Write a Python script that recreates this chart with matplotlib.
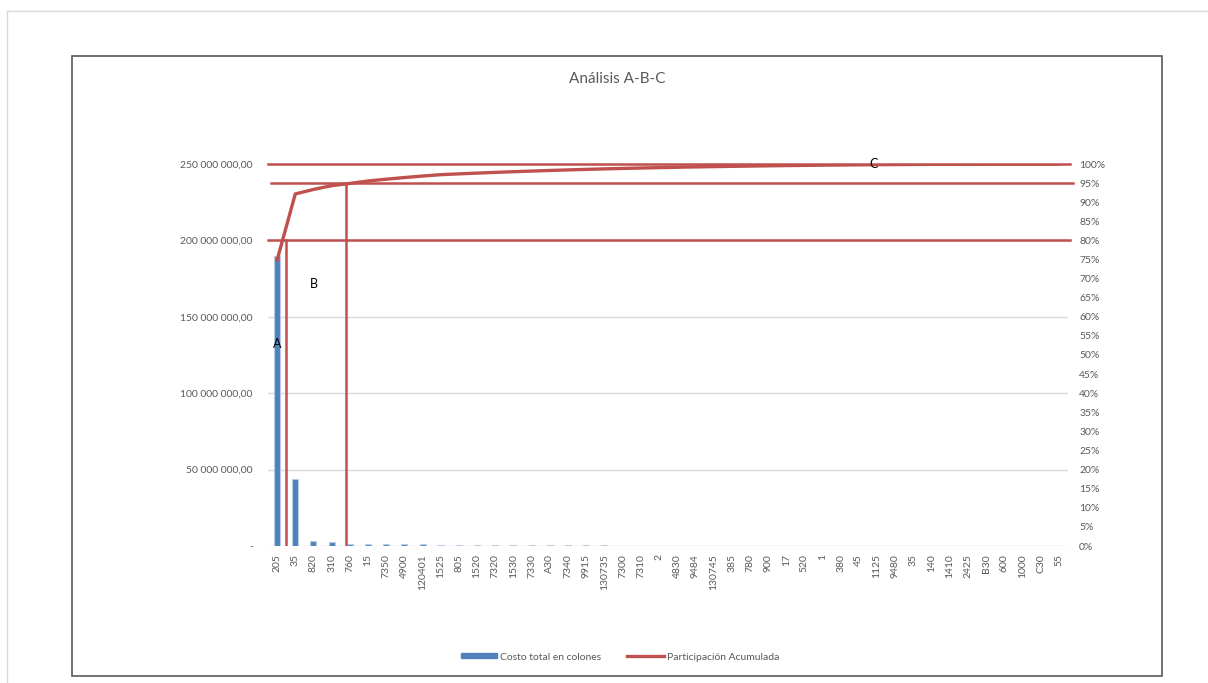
import matplotlib
matplotlib.use("Agg")
import matplotlib.pyplot as plt
from matplotlib.patches import Rectangle
from matplotlib.lines import Line2D
from matplotlib.ticker import FuncFormatter, MultipleLocator

plt.rcParams['font.family'] = ['Lato', 'DejaVu Sans']

# codes (x axis) and cost per code, in colones
codigos = ['205', '35', '820', '310', '760', '15', '7350', '4900', '120401', '1525',
           '805', '1520', '7320', '1530', '7330', 'A30', '7340', '9915', '130735', '7300',
           '7310', '2', '4830', '9484', '130745', '385', '780', '900', '17', '520',
           '1', '380', '45', '1125', '9480', '35', '140', '1410', '2425', 'B30',
           '600', '1000', 'C30', '55']
costo = [190.0e6, 44.0e6, 3.0e6, 2.5e6, 1.5e6, 1.6e6, 1.2e6, 1.1e6, 1.0e6, 0.9e6,
         0.55e6, 0.50e6, 0.48e6, 0.45e6, 0.42e6, 0.40e6, 0.38e6, 0.35e6, 0.33e6, 0.30e6,
         0.28e6, 0.26e6, 0.24e6, 0.22e6, 0.20e6, 0.19e6, 0.18e6, 0.17e6, 0.15e6, 0.14e6,
         0.13e6, 0.12e6, 0.11e6, 0.10e6, 0.09e6, 0.08e6, 0.07e6, 0.06e6, 0.05e6, 0.04e6,
         0.03e6, 0.02e6, 0.01e6, 0.005e6]

# cumulative share
total = sum(costo)
acumulada = []
s = 0
for c in costo:
    s += c
    acumulada.append(s / total)

# ABC cut-offs
cortes = [0.80, 0.95, 1.00]
etiquetas_abc = [('A', 0.0, 0.529), ('B', 2.0, 0.686), ('C', 32.8, 1.0)]

AZUL = '#4F81BD'
ROJO = '#C0504D'
GRIS = '#595959'

fig = plt.figure(figsize=(12.08, 6.83), dpi=100)

# spreadsheet frame and chart border
fig.add_artist(Line2D([7/1208, 7/1208], [0, 1 - 11/683], color='#D9D9D9', lw=1))
fig.add_artist(Line2D([7/1208, 1], [1 - 11/683, 1 - 11/683], color='#D9D9D9', lw=1))
fig.add_artist(Rectangle((72/1208, 1 - 676/683), (1162 - 72)/1208, (676 - 56)/683,
                         fill=False, edgecolor='#595959', lw=1.2))

ax = fig.add_axes([268/1208, 1 - 546/683, 800/1208, 382/683])
x = list(range(len(codigos)))
ax.bar(x, costo, width=0.33, color=AZUL, edgecolor='#B9CDE5', lw=0.8, zorder=2)
ax.set_xlim(-0.5, len(codigos) - 0.5)
ax.set_ylim(0, 250e6)
ax.yaxis.set_major_locator(MultipleLocator(50e6))
ax.yaxis.set_major_formatter(FuncFormatter(
    lambda v, p: '-' if v == 0 else f'{v:,.2f}'.replace(',', ' ').replace('.', ',')))
ax.grid(axis='y', color='#D9D9D9', lw=1, zorder=0)
ax.set_xticks(x)
ax.set_xticklabels(codigos, rotation=90, fontsize=7.5, color=GRIS)
ax.tick_params(axis='both', length=0, labelsize=7.5, labelcolor=GRIS)
ax.tick_params(axis='y', pad=11)
ax.tick_params(axis='x', pad=6)
for sp in ax.spines.values():
    sp.set_visible(False)

ax2 = ax.twinx()
ax2.plot(x, acumulada, color=ROJO, lw=2.4, zorder=3)
ax2.set_ylim(0, 1)
ax2.yaxis.set_major_locator(MultipleLocator(0.05))
ax2.yaxis.set_major_formatter(FuncFormatter(lambda v, p: f'{v*100:.0f}%'))
ax2.tick_params(axis='y', length=0, labelsize=7.5, labelcolor=GRIS, pad=8)
for sp in ax2.spines.values():
    sp.set_visible(False)

# ABC reference lines
for c, x0, x1 in zip(cortes, [-0.5, -0.35, -0.5], [43.6, 43.8, 43.6]):
    ax2.plot([x0, x1], [c, c], color=ROJO, lw=1.8, clip_on=False, zorder=2)
ax2.plot([0.5, 0.5], [0, cortes[0]], color=ROJO, lw=1.8, zorder=2)
ax2.plot([3.8, 3.8], [0, cortes[1]], color=ROJO, lw=1.8, zorder=2)
for t, tx, ty in etiquetas_abc:
    ax2.text(tx, ty, t, fontsize=9, color='black', ha='center', va='center', zorder=4)

fig.text(617/1208, 1 - 79/683, 'Análisis A-B-C', fontsize=11, color=GRIS,
         ha='center', va='center')

handles = [Rectangle((0, 0), 1, 1, color=AZUL), Line2D([], [], color=ROJO, lw=2.4)]
fig.legend(handles, ['Costo total en colones', 'Participación Acumulada'],
           loc='center', bbox_to_anchor=(620/1208, 1 - 657/683), ncol=2, frameon=False,
           fontsize=7.5, labelcolor=GRIS, handlelength=3.5, handleheight=0.4,
           columnspacing=2.5, handletextpad=0.3)

fig.savefig('out.png', dpi=100, facecolor='white')
